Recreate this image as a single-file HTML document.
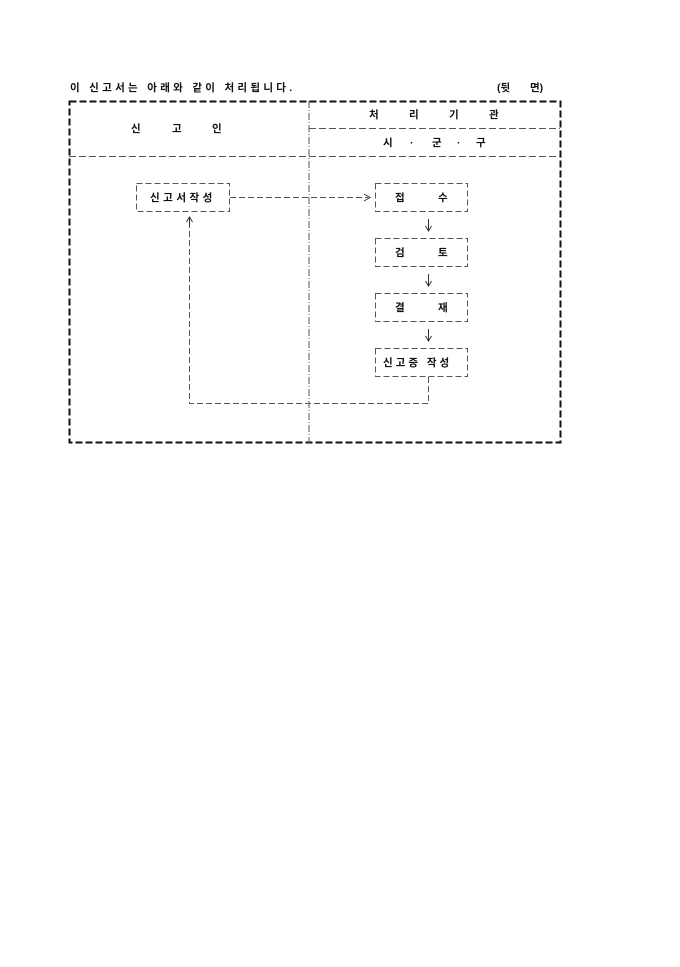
<!DOCTYPE html>
<html><head><meta charset="utf-8"><style>
html,body{margin:0;padding:0;background:#fff;}
svg text{font-family:"Liberation Sans","Noto Sans CJK KR","NanumGothic",sans-serif;font-size:10.5px;font-weight:bold;fill:#111;}
</style></head><body>
<svg width="680" height="962" xmlns="http://www.w3.org/2000/svg">
<text x="70" y="91" style="letter-spacing:3.3px">이 신고서는 아래와 같이 처리됩니다.</text>
<text x="497" y="91">(뒷</text><text x="530" y="91">면)</text>
<g fill="none">
<rect x="69.5" y="101.5" width="491" height="341" stroke="#111" stroke-width="2" stroke-dasharray="7,3"/>
<line x1="309" y1="101" x2="309" y2="443" stroke="#555" stroke-width="1" stroke-dasharray="7,2,1,2"/>
<line x1="309" y1="128.5" x2="560" y2="128.5" stroke="#555" stroke-dasharray="7,3"/>
<line x1="69" y1="156.5" x2="560" y2="156.5" stroke="#555" stroke-dasharray="7,3"/>
<g stroke="#555" stroke-dasharray="6,3">
<rect x="136.5" y="183.5" width="93" height="28"/>
<rect x="375.5" y="183.5" width="92" height="28"/>
<rect x="375.5" y="238.5" width="92" height="28"/>
<rect x="375.5" y="293.5" width="92" height="28"/>
<rect x="375.5" y="348.5" width="92" height="28"/>
<line x1="230" y1="197.5" x2="368" y2="197.5"/>
<polyline points="428.5,377 428.5,403.5 189.5,403.5 189.5,224"/>
</g>
<g stroke="#333">
<polyline points="364,194 370,197.5 364,201"/>
<line x1="189.5" y1="218" x2="189.5" y2="226"/><polyline points="186.5,222 189.5,217 192.5,222"/>
<line x1="428.5" y1="219" x2="428.5" y2="230"/><polyline points="425.5,226 428.5,231 431.5,226"/>
<line x1="428.5" y1="274" x2="428.5" y2="285"/><polyline points="425.5,281 428.5,286 431.5,281"/>
<line x1="428.5" y1="329" x2="428.5" y2="340"/><polyline points="425.5,336 428.5,341 431.5,336"/>
</g>
</g>
<text x="131" y="132">신</text><text x="172" y="132">고</text><text x="212" y="132">인</text>
<text x="369" y="118">처</text><text x="409" y="118">리</text><text x="449" y="118">기</text><text x="489" y="118">관</text>
<text x="383" y="146">시</text><text x="410" y="146">·</text><text x="432" y="146">군</text><text x="457" y="146">·</text><text x="476" y="146">구</text>
<text x="150" y="201" style="letter-spacing:3.5px">신고서작성</text>
<text x="395" y="201">접</text><text x="438" y="201">수</text>
<text x="395" y="256">검</text><text x="438" y="256">토</text>
<text x="395" y="311">결</text><text x="438" y="311">재</text>
<text x="383" y="366" style="letter-spacing:3px">신고증 작성</text>
</svg>
</body></html>
